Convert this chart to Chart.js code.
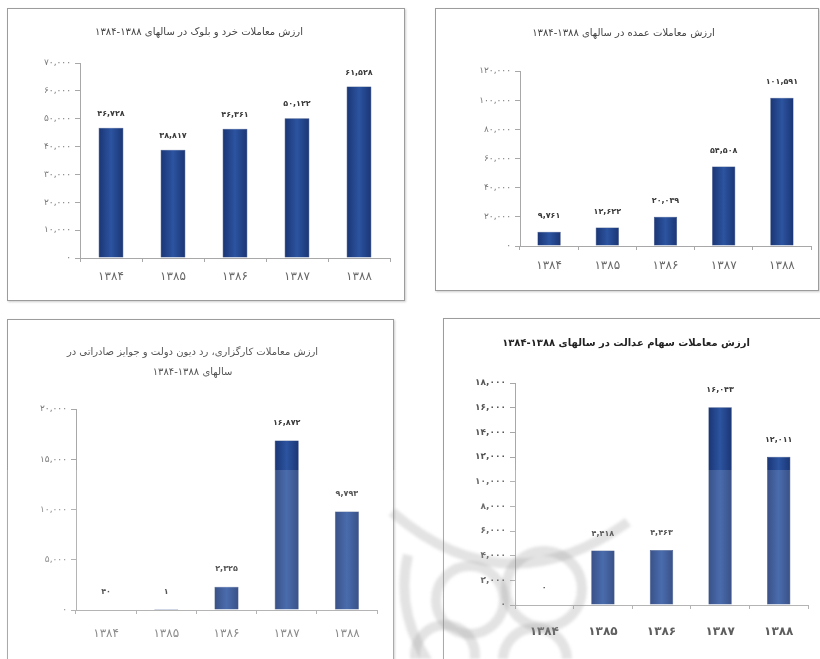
<!DOCTYPE html>
<html lang="fa">
<head>
<meta charset="utf-8">
<title>ارزش معاملات ۱۳۸۴-۱۳۸۸</title>
<script src="https://cdn.jsdelivr.net/npm/chart.js@4.4.1/dist/chart.umd.min.js"></script>
<style>
  html, body { margin: 0; padding: 0; background: #fff; width: 820px; height: 659px; overflow: hidden; }
  .panel { position: absolute; border: 1px solid #9c9c9c; background: #fff; box-shadow: 1px 1px 2px rgba(0, 0, 0, 0.2); }
  .panel canvas { display: block; }
  #p1 { left: 7px; top: 8px; width: 396px; height: 291px; }
  #p2 { left: 435px; top: 8px; width: 382px; height: 281px; }
  #p3 { left: 7px; top: 319px; width: 385px; height: 345px; }
  #p4 { left: 443px; top: 318px; width: 380px; height: 345px; }
  #mark { position: absolute; left: 0; top: 0; pointer-events: none; filter: blur(1.5px); }
  #haze { position: absolute; left: 0; top: 470px; width: 820px; height: 189px; background: rgba(255, 255, 255, 0.14); pointer-events: none; }
</style>
</head>
<body>
<div class="panel" id="p1"><canvas id="c1" width="396" height="291"></canvas></div>
<div class="panel" id="p2"><canvas id="c2" width="382" height="281"></canvas></div>
<div class="panel" id="p3"><canvas id="c3" width="385" height="345"></canvas></div>
<div class="panel" id="p4"><canvas id="c4" width="380" height="345"></canvas></div>
<div id="haze"></div>
<!-- faint rosette watermark behind the lower charts -->
<svg id="mark" width="820" height="659">
  <g fill="none" stroke="rgba(140,140,140,0.24)" stroke-width="10">
    <path d="M392 512 Q 505 610 628 522" />
    <path d="M408 555 Q 395 610 428 662" />
    <circle cx="544" cy="589" r="38" />
    <circle cx="470" cy="600" r="34" />
    <circle cx="445" cy="655" r="30" />
    <circle cx="535" cy="660" r="32" />
  </g>
</svg>

<script>
// years on the x axis (Persian digits)
const years = ["۱۳۸۴", "۱۳۸۵", "۱۳۸۶", "۱۳۸۷", "۱۳۸۸"];

// values (million rials)
const retailBlockValues = [46728, 38817, 46361, 50122, 61528];
const wholesaleValues = [9761, 12622, 20039, 54508, 101591];
const brokerageValues = [40, 1, 2325, 16872, 9793];
const justiceShareValues = [0, 4418, 4463, 16043, 12011];

const titles = {
  retail: "ارزش معاملات خرد و بلوک در سالهای ۱۳۸۸-۱۳۸۴",
  wholesale: "ارزش معاملات عمده در سالهای ۱۳۸۸-۱۳۸۴",
  brokerage: ["ارزش معاملات کارگزاری، رد دیون دولت و جوایز صادراتی در", "سالهای ۱۳۸۸-۱۳۸۴"],
  justice: "ارزش معاملات سهام عدالت در سالهای ۱۳۸۸-۱۳۸۴",
};

const FONT = "'DejaVu Sans', sans-serif";
const BAR_PCT = 0.4;
const AXIS_GRAY = "#a8a8a8";

function toFa(n) {
  return n.toLocaleString("en-US").replace(/\d/g, (d) => "۰۱۲۳۴۵۶۷۸۹"[d]);
}

// Excel-ish bar: darker edges, lighter middle
function barGradient(context) {
  const chart = context.chart;
  const xScale = chart.scales.x;
  if (!xScale || !chart.chartArea) {
    return "#23478f";
  }
  const cx = xScale.getPixelForValue(context.dataIndex);
  const half = (xScale.width / chart.data.labels.length) * BAR_PCT / 2;
  const g = chart.ctx.createLinearGradient(cx - half, 0, cx + half, 0);
  g.addColorStop(0, "#1a3574");
  g.addColorStop(0.5, "#2c54a0");
  g.addColorStop(1, "#1a3574");
  return g;
}

/** value printed above each bar */
const barValueLabels = {
  id: "barValueLabels",
  afterDatasetsDraw(chart, args, opts) {
    const ctx = chart.ctx;
    const meta = chart.getDatasetMeta(0);
    const values = chart.data.datasets[0].data;
    ctx.save();
    ctx.font = opts.font;
    ctx.fillStyle = opts.color;
    ctx.textAlign = "center";
    ctx.textBaseline = "middle";
    meta.data.forEach((bar, i) => {
      ctx.fillText(toFa(values[i]), bar.x, bar.y - opts.offset);
    });
    ctx.restore();
  },
};

function makeBarChart(canvasId, values, s) {
  return new Chart(document.getElementById(canvasId), {
    type: "bar",
    data: {
      labels: years,
      datasets: [
        {
          data: values,
          backgroundColor: barGradient,
          borderColor: "#17306a",
          borderWidth: 0.5,
          categoryPercentage: 1,
          barPercentage: BAR_PCT,
        },
      ],
    },
    plugins: [barValueLabels],
    options: {
      responsive: false,
      animation: false,
      layout: { padding: { left: 0, right: s.padRight, top: 0, bottom: 0 } },
      plugins: {
        legend: { display: false },
        tooltip: { enabled: false },
        title: {
          display: true,
          text: s.title,
          color: s.titleColor,
          font: { family: FONT, size: 10, weight: s.titleWeight, lineHeight: s.titleLineHeight },
          padding: { top: s.titleTop, bottom: s.titleBottom },
        },
        barValueLabels: { font: `bold 8px ${FONT}`, color: "#3a3a3a", offset: s.labelOffset },
      },
      scales: {
        x: {
          afterFit: (scale) => { scale.height = s.xHeight; },
          border: { color: AXIS_GRAY },
          grid: { display: true, drawOnChartArea: false, tickLength: 4, color: AXIS_GRAY },
          ticks: {
            color: s.xColor,
            padding: s.xPad,
            font: { family: FONT, size: 12, weight: s.xWeight },
          },
        },
        y: {
          min: 0,
          max: s.yMax,
          afterFit: (scale) => { scale.width = s.yWidth; },
          border: { color: AXIS_GRAY },
          grid: { display: true, drawOnChartArea: false, tickLength: 5, color: AXIS_GRAY },
          ticks: {
            stepSize: s.yStep,
            color: s.yColor,
            padding: 4,
            font: { family: FONT, size: 9, weight: s.xWeight },
            callback: (v) => toFa(v),
          },
        },
      },
    },
  });
}

makeBarChart("c1", retailBlockValues, {
  title: titles.retail, titleColor: "#444", titleWeight: "normal", titleLineHeight: 1.2,
  titleTop: 17, titleBottom: 25,
  yMax: 70000, yStep: 10000, yWidth: 72, xHeight: 42, padRight: 14,
  xPad: 8, xColor: "#666", yColor: "#7a7a7a", xWeight: "normal", labelOffset: 14,
});

makeBarChart("c2", wholesaleValues, {
  title: titles.wholesale, titleColor: "#444", titleWeight: "normal", titleLineHeight: 1.2,
  titleTop: 18, titleBottom: 32,
  yMax: 120000, yStep: 20000, yWidth: 84, xHeight: 44, padRight: 7,
  xPad: 9, xColor: "#666", yColor: "#7a7a7a", xWeight: "normal", labelOffset: 16,
});

makeBarChart("c3", brokerageValues, {
  title: titles.brokerage, titleColor: "#555", titleWeight: "normal", titleLineHeight: 2,
  titleTop: 22, titleBottom: 27,
  yMax: 20000, yStep: 5000, yWidth: 68, xHeight: 55, padRight: 16,
  xPad: 13, xColor: "#777", yColor: "#7a7a7a", xWeight: "normal", labelOffset: 18,
});

makeBarChart("c4", justiceShareValues, {
  title: titles.justice, titleColor: "#222", titleWeight: "bold", titleLineHeight: 1.2,
  titleTop: 18, titleBottom: 34,
  yMax: 18000, yStep: 2000, yWidth: 71, xHeight: 59, padRight: 16,
  xPad: 16, xColor: "#444", yColor: "#555", xWeight: "bold", labelOffset: 17,
});
</script>
</body>
</html>
